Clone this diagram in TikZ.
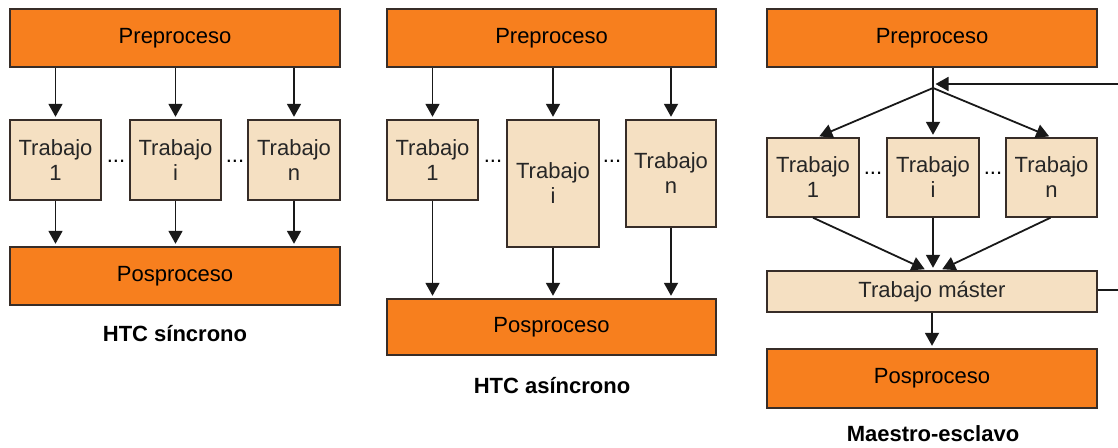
\documentclass[tikz,border=0pt]{standalone}
\usepackage{fontspec}
\setmainfont{Liberation Sans}
\usetikzlibrary{arrows.meta,calc}
\definecolor{orng}{RGB}{247,127,30}
\definecolor{beige}{RGB}{245,224,194}
\definecolor{bord}{RGB}{55,45,40}
\begin{document}
\begin{tikzpicture}[x=1pt,y=-1pt,
  every node/.style={font=\fontsize{22}{25}\selectfont},
  phase/.style={draw=bord,line width=1.4pt,fill=orng,inner sep=0pt,minimum height=58pt},
  job/.style={draw=bord,line width=1.4pt,fill=beige,inner sep=0pt,align=center,text=black!85},
  ttl/.style={font=\fontsize{22}{25}\selectfont\bfseries},
  dts/.style={anchor=base,inner sep=0pt},
  arr/.style={line width=1.8pt,draw=black!90,-{Triangle[width=14pt,length=13pt]},shorten >=2.5pt},
  ln/.style={line width=1.8pt,draw=black!90}]
\useasboundingbox (0,0) rectangle (1118,447);
% ---------- Panel 1 ----------
\node[phase,minimum width=330pt] (pre1) at (175,38) {Preproceso};
\node[job,minimum width=91pt,minimum height=80pt] (t11) at (55.5,160) {Trabajo\\1};
\node[job,minimum width=91pt,minimum height=80pt] (t1i) at (175.5,160) {Trabajo\\i};
\node[job,minimum width=92pt,minimum height=80pt] (t1n) at (294,160) {Trabajo\\n};
\node[phase,minimum width=330pt] (post1) at (175,276) {Posproceso};
\node[dts] (d11) at (116,162) {...};
\node[dts] (d12) at (235,162) {...};
\node[ttl] (l1) at (175,334) {HTC síncrono};
\foreach \t in {t11,t1i,t1n}{
  \draw[arr] (pre1.south -| \t.north) -- (\t.north);
  \draw[arr] (\t.south) -- (post1.north -| \t.south);
}
% ---------- Panel 2 ----------
\node[phase,minimum width=329pt] (pre2) at (551.5,38) {Preproceso};
\node[job,minimum width=91pt,minimum height=80pt] (t21) at (432.5,160) {Trabajo\\1};
\node[job,minimum width=92pt,minimum height=127pt] (t2i) at (553,183.5) {Trabajo\\i};
\node[job,minimum width=90pt,minimum height=107pt] (t2n) at (671,173.5) {Trabajo\\n};
\node[phase,minimum width=329pt,minimum height=56pt] (post2) at (551.5,327) {Posproceso};
\node[dts] (d21) at (493,162) {...};
\node[dts] (d22) at (612,162) {...};
\node[ttl] (l2) at (552,386) {HTC asíncrono};
\foreach \t in {t21,t2i,t2n}{
  \draw[arr] (pre2.south -| \t.north) -- (\t.north);
  \draw[arr] (\t.south) -- (post2.north -| \t.south);
}
% ---------- Panel 3 ----------
\node[phase,minimum width=330pt] (pre3) at (932,38) {Preproceso};
\coordinate (J) at (933,88);
\coordinate (Jf) at (933,84);
\node[job,minimum width=92pt,minimum height=79pt] (t31) at (813,177.5) {Trabajo\\1};
\node[job,minimum width=92pt,minimum height=79pt] (t3i) at (933,177.5) {Trabajo\\i};
\node[job,minimum width=91pt,minimum height=79pt] (t3n) at (1051.5,177.5) {Trabajo\\n};
\node[job,minimum width=330pt,minimum height=41pt] (mast) at (932,291.5) {Trabajo máster};
\node[phase,minimum width=330pt,minimum height=59pt] (post3) at (932,378.5) {Posproceso};
\node[dts] (d31) at (873,174) {...};
\node[dts] (d32) at (993,174) {...};
\node[ttl] (l3) at (933,434) {Maestro-esclavo};
\coordinate (fbR) at (1122,84);
\coordinate (fbM) at (1122,290);
\draw[ln] (pre3.south -| J) -- (J);
\draw[arr] (J) -- ($(t31.north)+(4,0)$);
\draw[arr] (J) -- (t3i.north);
\draw[arr] (J) -- (t3n.north);
\draw[arr] ($(t31.south)+(0,0)$) -- ($(mast.north)+(-5,0)$);
\draw[arr] (t3i.south) -- (mast.north -| t3i.south);
\draw[arr] ($(t3n.south)+(-1,0)$) -- ($(mast.north)+(8,0)$);
\draw[arr] (mast.south -| post3.north) -- (post3.north);
\draw[ln] (mast.east |- fbM) -- (fbM) -- (fbR);
\draw[arr] (fbR) -- (Jf);
\end{tikzpicture}
\end{document}
